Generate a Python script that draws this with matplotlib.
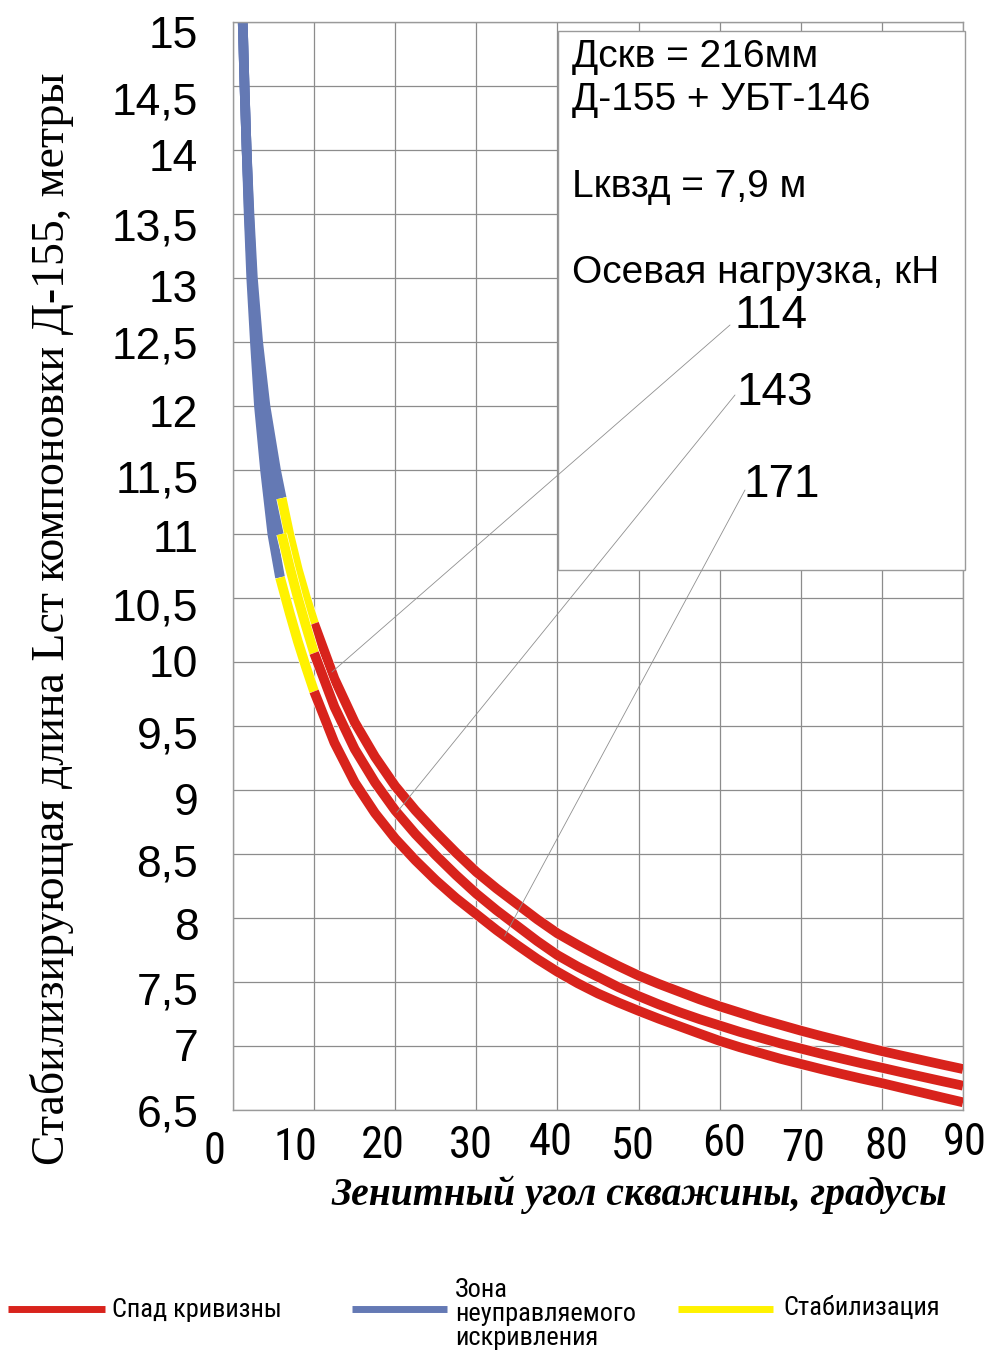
import numpy as np
import matplotlib
matplotlib.use("Agg")
import matplotlib.pyplot as plt
import matplotlib.patheffects as pe
from matplotlib import font_manager as fm
from matplotlib.font_manager import FontProperties
from matplotlib.patches import Rectangle
from matplotlib.lines import Line2D
from matplotlib.transforms import ScaledTranslation

# ---- data ----
# three curves, one per axial load (kN)
loads = ["114", "143", "171"]

theta_114 = [1.2, 1.42, 1.68, 2.03, 2.45, 3.1, 4.0, 5.3, 6.0, 7.0, 8.0, 9.0,
             10, 12.5, 15, 17.5, 20, 22.5, 25, 27.5, 30, 32.5, 35, 37.5, 40,
             42.5, 45, 47.5, 50, 52.5, 55, 57.5, 60, 62.5, 65, 67.5, 70,
             72.5, 75, 77.5, 80, 82.5, 85, 87.5, 90]
len_114 = [15.0, 14.5, 14.0, 13.5, 13.0, 12.5, 12.0, 11.5, 11.28, 10.98, 10.72, 10.50,
           10.30, 9.87, 9.53, 9.26, 9.03, 8.84, 8.67, 8.51, 8.36, 8.23, 8.11, 7.99, 7.88,
           7.79, 7.705, 7.625, 7.55, 7.485, 7.425, 7.365, 7.31, 7.26, 7.21, 7.165, 7.12,
           7.078, 7.038, 6.998, 6.96, 6.924, 6.889, 6.854, 6.82]

theta_143 = [1.2, 1.42, 1.68, 1.98, 2.35, 2.9, 3.6, 4.6, 6.0, 7.0, 8.0, 9.0,
             10, 12.5, 15, 17.5, 20, 22.5, 25, 27.5, 30, 32.5, 35, 37.5, 40,
             42.5, 45, 47.5, 50, 52.5, 55, 57.5, 60, 62.5, 65, 67.5, 70,
             72.5, 75, 77.5, 80, 82.5, 85, 87.5, 90]
len_143 = [15.0, 14.5, 14.0, 13.5, 13.0, 12.5, 12.0, 11.5, 11.0, 10.74, 10.50, 10.28,
           10.07, 9.65, 9.32, 9.06, 8.84, 8.655, 8.49, 8.335, 8.19, 8.06, 7.94, 7.82, 7.71,
           7.62, 7.54, 7.46, 7.39, 7.325, 7.265, 7.21, 7.16, 7.11, 7.065, 7.02, 6.98,
           6.94, 6.902, 6.865, 6.83, 6.794, 6.759, 6.724, 6.69]

theta_171 = [1.2, 1.42, 1.68, 1.93, 2.25, 2.7, 3.2, 3.95, 4.85, 5.8, 7.0, 8.0, 9.0,
             10, 12.5, 15, 17.5, 20, 22.5, 25, 27.5, 30, 32.5, 35, 37.5, 40,
             42.5, 45, 47.5, 50, 52.5, 55, 57.5, 60, 62.5, 65, 67.5, 70,
             72.5, 75, 77.5, 80, 82.5, 85, 87.5, 90]
len_171 = [15.0, 14.5, 14.0, 13.5, 13.0, 12.5, 12.0, 11.5, 11.0, 10.66, 10.38, 10.16, 9.96,
           9.77, 9.37, 9.06, 8.82, 8.62, 8.45, 8.295, 8.155, 8.03, 7.905, 7.79, 7.68, 7.58,
           7.49, 7.41, 7.34, 7.275, 7.213, 7.155, 7.097, 7.04, 6.99, 6.945, 6.90, 6.86,
           6.82, 6.782, 6.745, 6.71, 6.672, 6.635, 6.597, 6.56]

# end of the "uncontrolled" zone for each curve, end of stabilisation zone
blue_end = [6.0, 6.0, 5.8]
stab_end = 10
# where the leader of each load label touches its curve
leader_theta = [12.2, 20.2, 33.5]

x_ticks = list(range(0, 91, 10))
x_tick_labels = [str(v) for v in x_ticks]
y_ticks = [6.5 + 0.5 * i for i in range(18)]
y_tick_labels = [("%g" % v).replace(".", ",") for v in y_ticks]

RED = "#d8231c"
BLUE = "#6479b4"
YELLOW = "#fff200"
GRID = "#8c8c8c"


def find_font(keys):
    for key in keys:
        for f in fm.fontManager.ttflist:
            if f.fname.endswith(key) or key in f.fname.split("/")[-1]:
                return f.fname
    return None


narrow = find_font(["LiberationSansNarrow-Regular.ttf", "RobotoCondensed-Regular.ttf",
                    "DejaVuSansCondensed.ttf"])


def narrow_font(size):
    if narrow:
        return FontProperties(fname=narrow, size=size)
    return FontProperties(family="Liberation Sans", size=size * 0.9)


W, H = 990, 1353
fig = plt.figure(figsize=(W / 100, H / 100), dpi=100)
ax = fig.add_axes([233 / W, 1 - 1110 / H, 730 / W, 1088 / H])


def fx(px):
    return px / W


def fy(py):
    return 1 - py / H


def ax_xy(px, py):
    # pixel position -> axes fraction
    return (px - 233) / 730, (1110 - py) / 1088


ax.set_xlim(0, 90)
ax.set_ylim(6.5, 15)
ax.set_xticks(x_ticks)
ax.set_yticks(y_ticks)
ax.set_xticklabels(x_tick_labels)
ax.set_yticklabels(y_tick_labels, family="Liberation Sans", fontsize=32)
for lab in ax.get_xticklabels():
    lab.set_fontproperties(narrow_font(32))
ax.tick_params(length=0)
ax.tick_params(axis="x", pad=11)
ax.tick_params(axis="y", pad=25)
ax.grid(True, color=GRID, lw=0.9)
ax.set_axisbelow(True)
for s in ax.spines.values():
    s.set_color("#9a9a9a")
    s.set_linewidth(1.0)

# nudge tick labels like the hand-placed ones in the reference
x_dx = [-19, -19, -12, -6, -7, -6, 4, 2, 4, 2]
x_dy = [6, 2, 0, 0, -3, 1, -2, 3, 1, -3]
for lab, dx, dy in zip(ax.get_xticklabels(), x_dx, x_dy):
    lab.set_transform(lab.get_transform() + ScaledTranslation(dx / 100, -dy / 100, fig.dpi_scale_trans))
y_dy = [0, -1, 6, 6, 7, 9, 6, -1, 6, 2, 6, 5, 0, 8, 11, 5, 12, 10]
for lab, dy in zip(ax.get_yticklabels(), y_dy):
    lab.set_transform(lab.get_transform() + ScaledTranslation(0, -dy / 100, fig.dpi_scale_trans))

# ---- curves ----
curves = [(theta_114, len_114), (theta_143, len_143), (theta_171, len_171)]
outline = [pe.Stroke(linewidth=7.8, foreground="white"), pe.Normal()]
for (th, L), be in zip(curves, blue_end):
    th = np.array(th)
    L = np.array(L)
    m = th <= be
    ax.plot(th[m], L[m], color=BLUE, lw=7, solid_capstyle="butt",
            solid_joinstyle="round", zorder=2.5)
    parts = [((th >= be) & (th <= stab_end), YELLOW), (th >= stab_end, RED)]
    for mask, color in parts:
        ax.plot(th[mask], L[mask], color=color, lw=7, solid_capstyle="butt",
                solid_joinstyle="round", path_effects=outline, zorder=3)

# ---- info box ----
bx0, by1 = ax_xy(558, 31)
bx1, by0 = ax_xy(965, 570)
ax.add_patch(Rectangle((bx0, by0), bx1 - bx0, by1 - by0, transform=ax.transAxes,
                       fc="white", ec="#9a9a9a", lw=1.0, clip_on=False, zorder=4))

box_lines = [("Дскв = 216мм", 57), ("Д-155 + УБТ-146", 100), ("Lквзд = 7,9 м", 187),
             ("Осевая нагрузка, кН", 273)]
for txt, py in box_lines:
    ax.text(*ax_xy(572, py), txt, transform=ax.transAxes, ha="left", va="center",
            family="Liberation Sans", fontsize=28, zorder=5)

label_pos = [(734, 316), (737, 393), (744, 485)]
leader_start = [(730, 325), (735, 395), (745, 490)]
for load, (th, L), lt, lp, ls in zip(loads, curves, leader_theta, label_pos, leader_start):
    ax.text(*ax_xy(*lp), load, transform=ax.transAxes, ha="left", va="center",
            family="Liberation Sans", fontsize=33, zorder=5)
    ax.annotate("", xy=(lt, np.interp(lt, th, L)), xycoords="data",
                xytext=ax_xy(*ls), textcoords="axes fraction",
                arrowprops=dict(arrowstyle="-", color="#8f8f8f", lw=0.6, shrinkA=0, shrinkB=0),
                zorder=5)

# ---- axis titles ----
fig.text(fx(52), fy(619), "Стабилизирующая длина Lст компоновки Д-155, метры", rotation=90,
         ha="center", va="center", family="Liberation Serif", fontsize=33)
fig.text(fx(639), fy(1195), "Зенитный угол скважины, градусы", ha="center", va="center",
         family="Liberation Serif", style="italic", weight="bold", fontsize=28.5)

# ---- legend along the bottom ----
legend_items = [(RED, "Спад кривизны", 8, 105, 112, 1310),
                (BLUE, "Зона\nнеуправляемого\nискривления", 352, 447, 455, 1314),
                (YELLOW, "Стабилизация", 678, 773, 783, 1308)]
for color, txt, x0, x1, tx, ty in legend_items:
    fig.add_artist(Line2D([fx(x0), fx(x1)], [fy(1309), fy(1309)], color=color, lw=5,
                          solid_capstyle="butt"))
    fig.text(fx(tx), fy(ty), txt, ha="left", va="center", linespacing=1.0,
             fontproperties=narrow_font(19))

fig.savefig("out.png", dpi=100)
